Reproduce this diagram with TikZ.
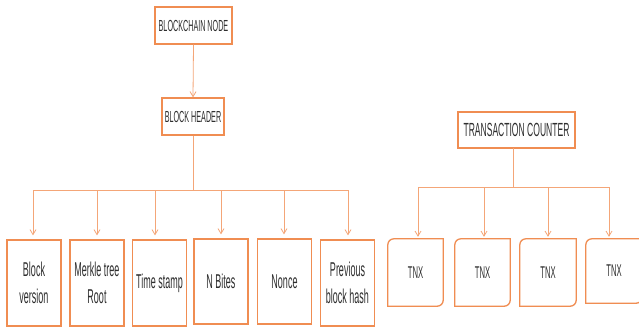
\documentclass[tikz,border=0pt]{standalone}
\usepackage{fontspec}
\setmainfont{Liberation Sans}[FakeStretch=0.45]
\usetikzlibrary{arrows.meta}
\definecolor{boxc}{HTML}{F08D52}
\definecolor{linec}{HTML}{F4A678}
\definecolor{txt}{HTML}{2E2E2E}
\tikzset{
  box/.style={draw=boxc, line width=1.3pt, fill=white, text=txt, inner sep=0pt, align=center},
  topbox/.style={box, font=\fontsize{16}{18}\selectfont},
  leafbox/.style={box, minimum width=54pt, minimum height=86pt, font=\fontsize{20}{27}\selectfont},
  tnxbox/.style={draw=none, text=txt, inner sep=0pt, minimum width=55pt, minimum height=67pt, font=\fontsize{17}{18}\selectfont},
  tnxline/.style={draw=boxc, line width=1.3pt, line cap=rect, rounded corners=6pt},
  conn/.style={draw=linec, line width=0.8pt},
  arr/.style={conn, -{Straight Barb[length=5pt,width=6pt]}, shorten >=4pt}
}
\begin{document}
\begin{tikzpicture}[x=1pt,y=-1pt]
\useasboundingbox[fill=white] (0,0) rectangle (639,329);
% top part
\node[topbox, minimum width=77pt, minimum height=37pt] (bn) at (193.5,25.5) {BLOCKCHAIN NODE};
\node[topbox, minimum width=62pt, minimum height=37pt] (bh) at (193,116.5) {BLOCK HEADER};
\draw[arr, shorten >=0pt] (bn.south) -- (bh.north);
% leaves
\node[leafbox] (bv) at (34,283) {Block\\version};
\node[leafbox] (mr) at (97,283) {Merkle tree\\Root};
\node[leafbox] (ts) at (159.5,283) {Time stamp};
\node[leafbox, minimum height=85pt] (nb) at (221,281.5) {N Bites};
\node[leafbox, minimum height=85pt] (no) at (284.5,281.5) {Nonce};
\node[leafbox] (pb) at (347.5,283) {Previous\\block hash};
% bus 1
\coordinate (hb) at (bh.south |- 0,190);
\coordinate (b1) at (33,190);
\coordinate (b2) at (97,190);
\coordinate (b3) at (155,190);
\coordinate (b4) at (221,190);
\coordinate (b5) at (284,190);
\coordinate (b6) at (348,190);
\draw[conn] (bh.south) -- (hb);
\draw[conn] (b1) -- (b6);
\draw[arr] (b1) -- (b1 |- bv.north);
\draw[arr] (b2) -- (b2 |- mr.north);
\draw[arr] (b3) -- (b3 |- ts.north);
\draw[arr] (b4) -- (b4 |- nb.north);
\draw[arr] (b5) -- (b5 |- no.north);
\draw[arr] (b6) -- (b6 |- pb.north);
% transaction counter
\node[box, font=\fontsize{19}{20}\selectfont, minimum width=117pt, minimum height=36pt] (tc) at (516.5,130) {TRANSACTION COUNTER};
\node[tnxbox] (t1) at (415.5,272.5) {TNX};
\node[tnxbox] (t2) at (482.5,272.5) {TNX};
\node[tnxbox, minimum width=56pt] (t3) at (548,272.5) {TNX};
\node[tnxbox, minimum width=56pt, minimum height=64pt] (t4) at (614,271) {TNX};
\foreach \n in {t1,t2,t3,t4}{
  \draw[tnxline] (\n.south west) -- (\n.north west) -- (\n.north east);
  \draw[tnxline] (\n.north east) -- (\n.south east) -- (\n.south west);
}
\coordinate (tcb) at (513,148);
\coordinate (tcbus) at (513,187);
\coordinate (c1) at (418,187);
\coordinate (c2) at (484,187);
\coordinate (c3) at (548,187);
\coordinate (c4) at (609,187);
\draw[conn] (tcb) -- (tcbus);
\draw[conn] (c1) -- (c4);
\draw[arr, shorten >=2pt] (c1) -- (c1 |- t1.north);
\draw[arr, shorten >=2pt] (c2) -- (c2 |- t2.north);
\draw[arr, shorten >=2pt] (c3) -- (c3 |- t3.north);
\draw[arr, shorten >=2pt] (c4) -- (c4 |- t4.north);
\end{tikzpicture}
\end{document}
